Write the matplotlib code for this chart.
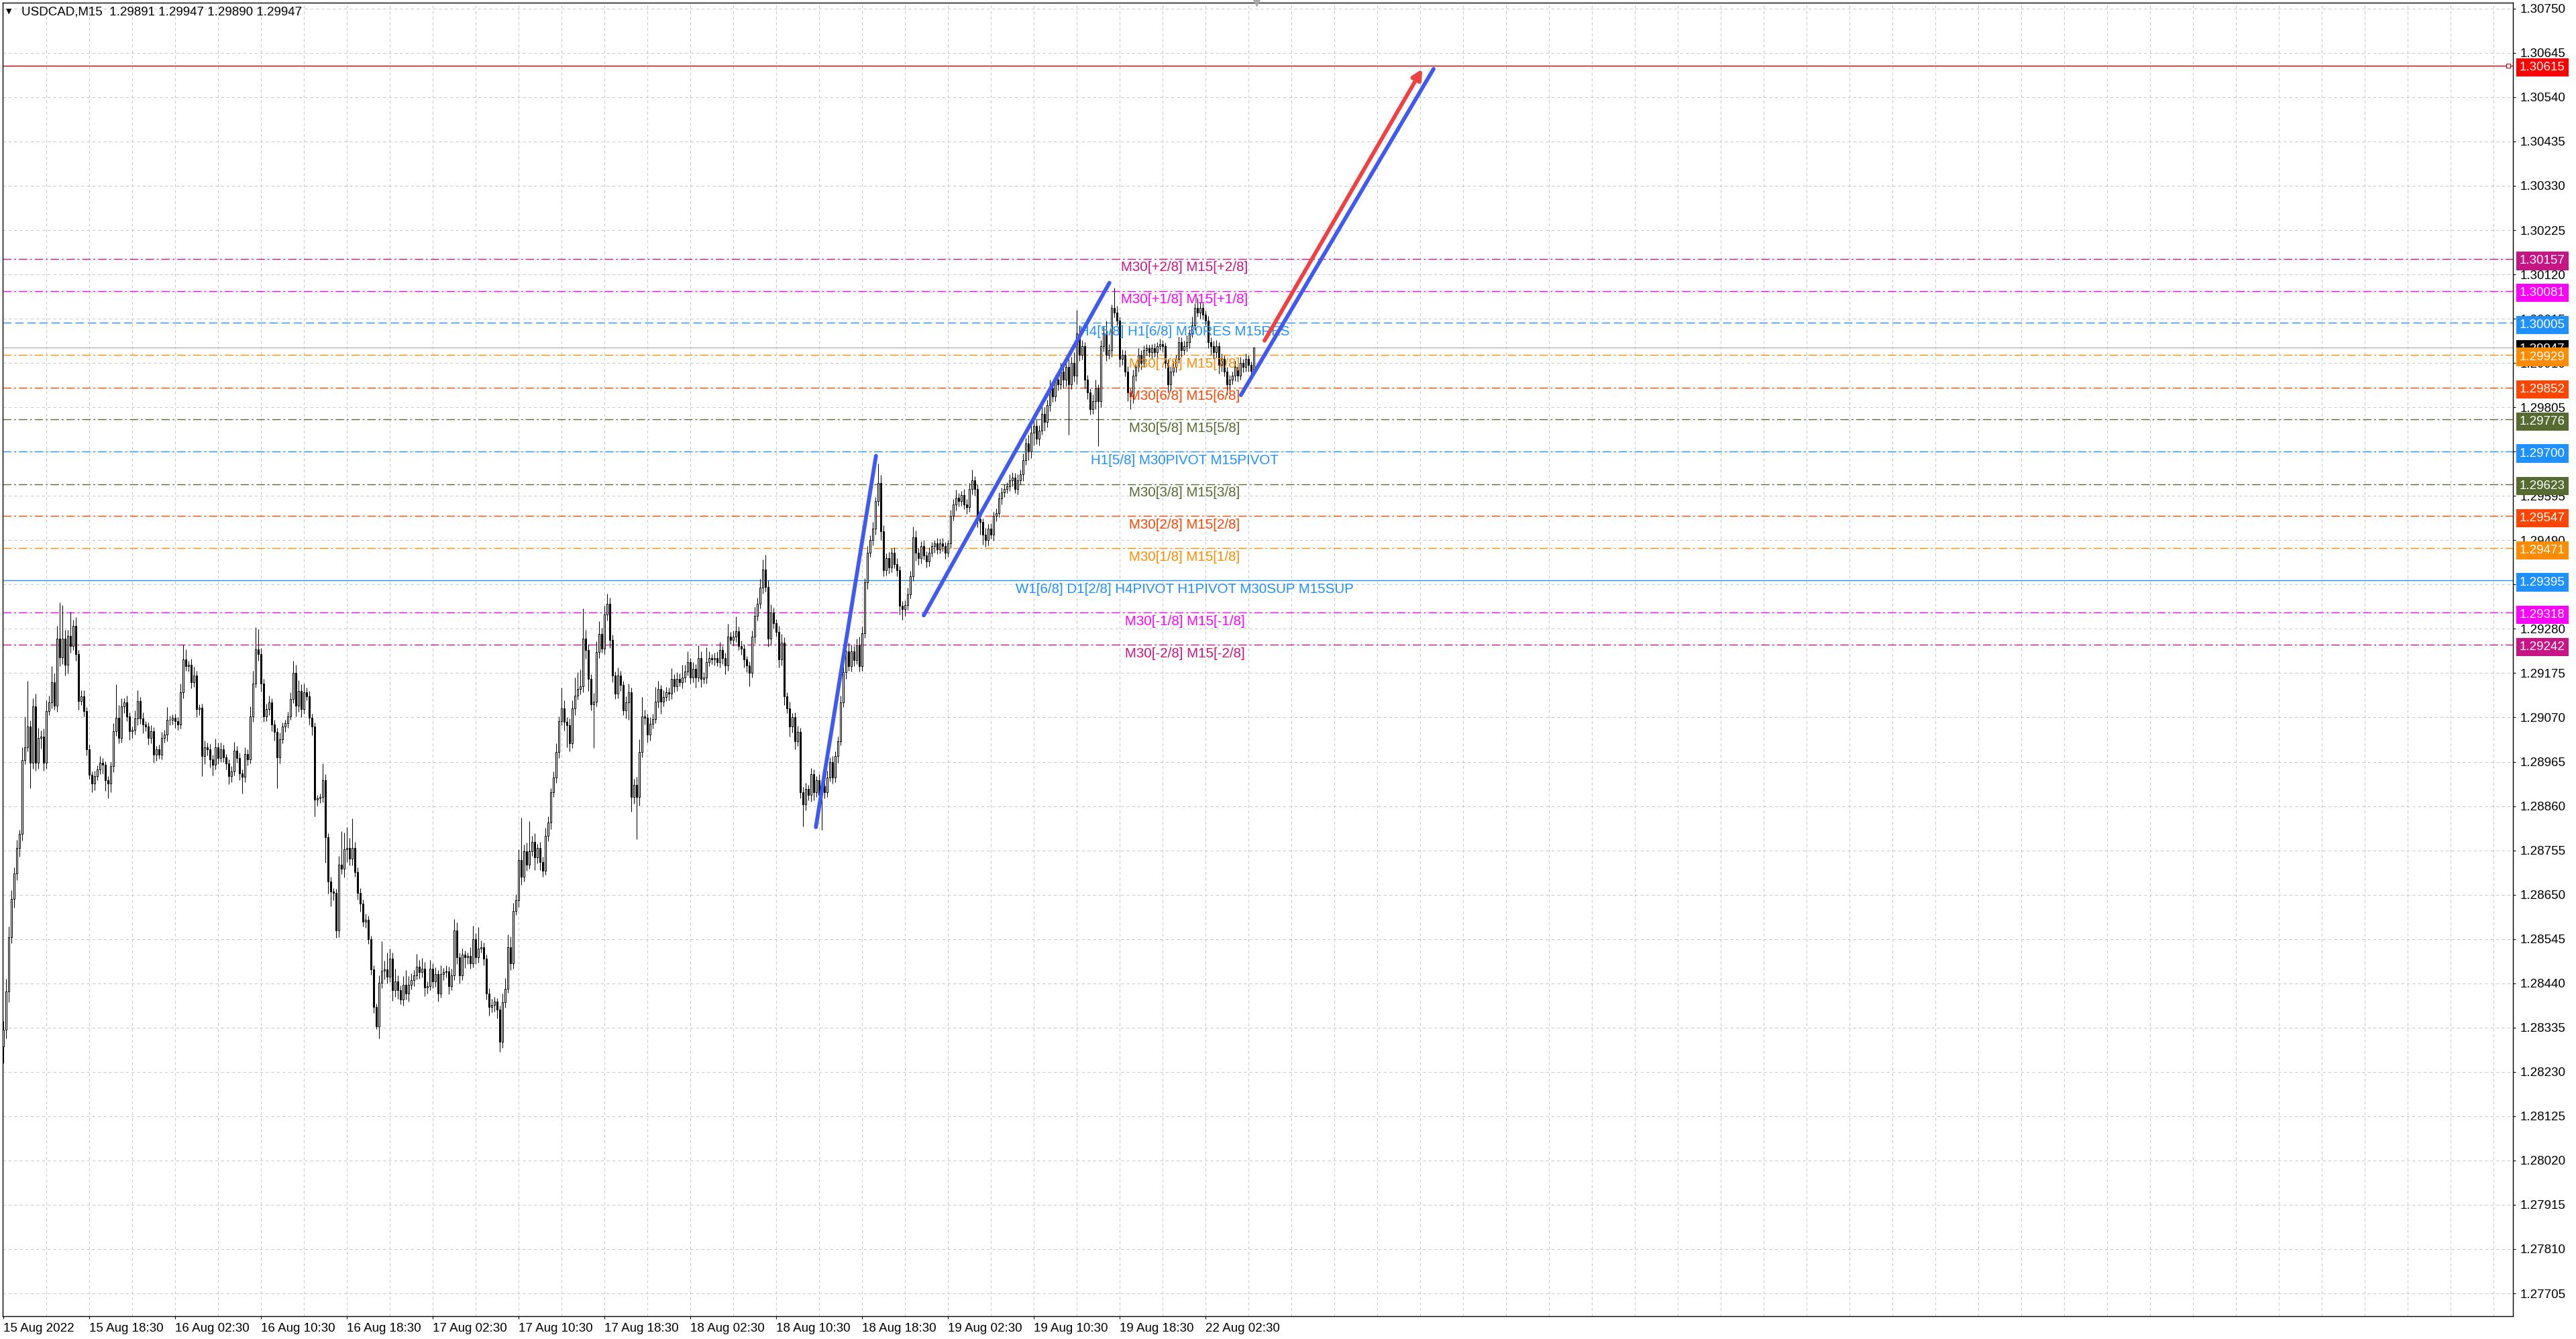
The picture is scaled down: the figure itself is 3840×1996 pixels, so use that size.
import numpy as np
import matplotlib
matplotlib.use("Agg")
import matplotlib.pyplot as plt
import matplotlib.transforms as mtransforms

plt.rcParams['font.family'] = ['Liberation Sans', 'DejaVu Sans']
plt.rcParams['lines.scale_dashes'] = False

# USDCAD M15, prices in points (1e-5) above BASE
BASE = 1.28
first_open = 290
close_pts = [
    330, 420, 550, 640, 700, 760, 794, 969, 1000, 1048,          # 0
    963, 1096, 963, 1021, 1024, 963, 1085, 1106, 1154, 1098,     # 10
    1257, 1212, 1257, 1194, 1263, 1239, 1287, 1220, 1109, 1120,  # 20
    1085, 995, 934, 913, 931, 947, 963, 958, 921, 913,           # 30
    955, 1037, 1069, 1021, 1096, 1106, 1072, 1037, 1040, 1067,   # 40
    1109, 1067, 1053, 1048, 1021, 1037, 982, 995, 982, 1021,     # 50
    1029, 1064, 1064, 1069, 1061, 1053, 1130, 1207, 1191, 1194,  # 60
    1154, 1170, 1090, 1093, 979, 1000, 995, 971, 958, 1000,      # 70
    974, 995, 976, 961, 931, 942, 992, 974, 937, 929,            # 80
    984, 971, 1072, 1151, 1231, 1220, 1151, 1072, 1090, 1106,    # 90
    1053, 1035, 976, 1019, 1048, 1056, 1072, 1114, 1175, 1098,   # 100
    1133, 1090, 1130, 1120, 1069, 1048, 876, 878, 881, 921,      # 110
    786, 682, 657, 654, 565, 721, 711, 757, 760, 735,            # 120
    760, 704, 654, 629, 586, 590, 544, 473, 384, 338,            # 130
    441, 469, 473, 455, 498, 423, 444, 423, 402, 437,            # 140
    416, 437, 448, 459, 480, 466, 475, 430, 434, 475,            # 150
    444, 462, 416, 462, 466, 468, 434, 459, 565, 501,            # 160
    459, 508, 501, 505, 487, 544, 501, 523, 526, 498,            # 170
    416, 384, 388, 397, 377, 302, 395, 427, 526, 487,            # 180
    611, 636, 732, 693, 753, 721, 753, 775, 739, 760,            # 190
    728, 707, 789, 821, 892, 927, 988, 1062, 1091, 1059,         # 200
    1052, 1009, 1091, 1122, 1137, 1144, 1257, 1229, 1162, 1101,  # 210
    1108, 1225, 1268, 1233, 1314, 1339, 1254, 1169, 1126, 1169,  # 220
    1147, 1087, 1105, 1130, 881, 910, 881, 988, 1073, 1069,      # 230
    1030, 1055, 1066, 1108, 1137, 1108, 1119, 1130, 1126, 1162,  # 240
    1144, 1162, 1154, 1165, 1179, 1201, 1165, 1186, 1165, 1211,  # 250
    1162, 1165, 1201, 1211, 1208, 1211, 1201, 1229, 1211, 1193,  # 260
    1261, 1254, 1261, 1275, 1240, 1233, 1208, 1193, 1176, 1261,  # 270
    1311, 1339, 1378, 1420, 1380, 1257, 1318, 1293, 1272, 1208,  # 280
    1248, 1120, 1092, 1049, 1070, 1014, 1035, 893, 864, 900,     # 290
    886, 935, 893, 921, 886, 907, 893, 928, 964, 928,            # 300
    978, 1014, 1106, 1177, 1227, 1191, 1227, 1206, 1241, 1191,   # 310
    1270, 1390, 1461, 1490, 1518, 1582, 1625, 1511, 1419, 1447,  # 320
    1426, 1461, 1433, 1419, 1334, 1326, 1337, 1362, 1405, 1497,  # 330
    1461, 1447, 1476, 1454, 1440, 1461, 1476, 1483, 1469, 1483,  # 340
    1476, 1461, 1483, 1547, 1575, 1590, 1582, 1597, 1575, 1568,  # 350
    1611, 1632, 1611, 1540, 1533, 1504, 1490, 1518, 1504, 1547,  # 360
    1554, 1589, 1604, 1611, 1618, 1632, 1639, 1611, 1632, 1646,  # 370
    1680, 1720, 1700, 1745, 1760, 1730, 1750, 1790, 1770, 1810,  # 380
    1850, 1830, 1870, 1860, 1890, 1870, 1900, 1860, 1910, 1880,  # 390
    1980, 1930, 1950, 1870, 1840, 1800, 1820, 1850, 1820, 1950,  # 400
    1980, 1930, 1940, 2040, 2030, 2010, 1920, 1930, 1890, 1840,  # 410
    1830, 1880, 1900, 1930, 1910, 1940, 1945, 1935, 1945, 1935,  # 420
    1950, 1955, 1950, 1910, 1860, 1890, 1900, 1920, 1960, 1940,  # 430
    1950, 1960, 1980, 2000, 2040, 2030, 2040, 2025, 2010, 1960,  # 440
    1950, 1935, 1950, 1905, 1920, 1890, 1860, 1870, 1880, 1900,  # 450
    1880, 1910, 1900, 1920, 1905, 1891, 1947,                    # 460
]
up_wick = [
    20, 30, 25, 20, 15, 20, 10, 30, 72, 109,
    15, 20, 30, 25, 15, 20, 25, 15, 37, 20,
    30, 85, 80, 20, 15, 58, 15, 20, 10, 15,
    15, 10, 10, 8, 12, 10, 15, 10, 8, 10,
    10, 20, 80, 30, 20, 10, 15, 10, 8, 20,
    25, 10, 15, 8, 10, 15, 10, 8, 10, 15,
    12, 30, 10, 8, 10, 10, 20, 35, 25, 10,
    15, 20, 10, 8, 10, 15, 10, 12, 10, 20,
    10, 15, 10, 8, 10, 12, 20, 10, 12, 10,
    15, 10, 25, 30, 53, 48, 15, 10, 12, 15,
    10, 12, 10, 15, 10, 8, 12, 15, 29, 20,
    25, 15, 20, 10, 12, 10, 10, 8, 8, 40,
    15, 10, 10, 8, 10, 20, 80, 40, 50, 25,
    70, 15, 10, 12, 10, 15, 10, 8, 10, 8,
    18, 71, 20, 39, 25, 15, 30, 15, 12, 20,
    35, 20, 15, 12, 30, 15, 25, 15, 10, 20,
    12, 15, 10, 20, 10, 15, 12, 15, 28, 20,
    12, 15, 10, 8, 20, 32, 15, 50, 15, 10,
    10, 12, 15, 10, 8, 10, 20, 25, 30, 25,
    20, 15, 25, 100, 15, 20, 71, 15, 20, 10,
    15, 12, 20, 15, 10, 15, 20, 10, 50, 20,
    12, 15, 20, 43, 40, 40, 71, 20, 15, 10,
    20, 25, 30, 15, 20, 25, 15, 12, 10, 20,
    12, 10, 15, 20, 10, 15, 20, 30, 46, 15,
    10, 15, 12, 35, 20, 10, 15, 12, 10, 25,
    10, 15, 12, 30, 15, 25, 10, 15, 10, 30,
    15, 12, 35, 15, 10, 12, 15, 20, 10, 12,
    30, 12, 15, 35, 10, 12, 10, 8, 10, 15,
    20, 15, 20, 25, 35, 15, 20, 12, 10, 15,
    20, 12, 10, 15, 10, 12, 15, 10, 12, 15,
    10, 15, 12, 10, 15, 12, 10, 15, 12, 15,
    12, 10, 15, 20, 15, 20, 15, 12, 15, 20,
    15, 10, 15, 12, 15, 10, 46, 20, 15, 12,
    15, 10, 12, 15, 10, 12, 10, 15, 12, 25,
    15, 10, 12, 15, 10, 12, 10, 8, 12, 10,
    12, 10, 8, 15, 12, 20, 12, 10, 15, 12,
    15, 25, 10, 12, 10, 8, 15, 10, 12, 10,
    12, 15, 10, 12, 10, 15, 12, 10, 15, 12,
    15, 12, 20, 25, 30, 15, 12, 20, 15, 12,
    20, 15, 12, 15, 20, 12, 15, 20, 15, 25,
    56, 20, 15, 10, 12, 10, 15, 20, 10, 15,
    16, 30, 15, 9, 49, 15, 10, 12, 10, 12,
    10, 15, 12, 15, 10, 12, 10, 8, 10, 12,
    10, 12, 10, 8, 10, 12, 15, 10, 12, 10,
    12, 15, 10, 20, 12, 25, 15, 12, 10, 12,
    10, 12, 15, 10, 12, 8, 10, 12, 10, 15,
    12, 15, 10, 12, 10, 8, 0,
]
dn_wick = [
    40, 20, 25, 15, 20, 15, 20, 15, 10, 10,
    61, 15, 20, 15, 25, 20, 15, 10, 15, 10,
    15, 20, 15, 25, 20, 15, 10, 15, 20, 10,
    12, 15, 10, 20, 15, 10, 12, 20, 25, 35,
    20, 15, 10, 12, 10, 15, 10, 20, 15, 10,
    15, 12, 20, 10, 15, 12, 20, 15, 10, 12,
    10, 15, 12, 10, 15, 12, 10, 15, 10, 12,
    15, 12, 20, 15, 48, 20, 15, 20, 25, 12,
    15, 10, 12, 15, 20, 15, 10, 12, 15, 40,
    12, 15, 10, 12, 10, 15, 20, 12, 10, 15,
    15, 20, 74, 15, 10, 12, 10, 8, 10, 25,
    15, 20, 12, 10, 15, 20, 40, 15, 10, 12,
    60, 30, 35, 18, 18, 15, 12, 20, 30, 15,
    15, 12, 15, 20, 12, 15, 10, 12, 15, 7,
    28, 12, 20, 15, 12, 25, 15, 20, 12, 15,
    15, 20, 12, 15, 10, 15, 12, 20, 15, 10,
    15, 12, 20, 10, 15, 12, 20, 10, 12, 15,
    20, 12, 25, 15, 12, 10, 15, 12, 10, 15,
    15, 21, 12, 15, 20, 25, 15, 12, 10, 15,
    12, 10, 15, 20, 12, 15, 10, 12, 30, 15,
    20, 15, 10, 12, 15, 10, 12, 15, 10, 20,
    53, 20, 12, 15, 10, 12, 15, 20, 30, 15,
    103, 12, 15, 10, 12, 15, 20, 15, 12, 10,
    15, 12, 20, 40, 35, 15, 100, 20, 12, 15,
    20, 15, 12, 10, 15, 30, 12, 10, 15, 12,
    15, 12, 10, 15, 12, 10, 15, 12, 25, 10,
    20, 12, 15, 10, 12, 15, 10, 12, 15, 20,
    12, 10, 15, 12, 10, 15, 20, 15, 32, 12,
    15, 12, 10, 15, 12, 20, 15, 12, 10, 20,
    15, 20, 12, 25, 15, 20, 12, 15, 53, 15,
    12, 15, 20, 12, 15, 82, 15, 12, 10, 15,
    12, 15, 10, 12, 15, 10, 12, 15, 10, 12,
    10, 12, 15, 10, 12, 15, 10, 20, 15, 12,
    15, 12, 10, 15, 20, 25, 15, 12, 10, 12,
    20, 15, 12, 10, 15, 12, 10, 15, 12, 10,
    12, 15, 10, 12, 10, 15, 12, 10, 12, 15,
    10, 12, 15, 20, 30, 25, 15, 12, 10, 15,
    12, 10, 15, 12, 10, 12, 15, 10, 12, 10,
    15, 12, 20, 15, 30, 12, 15, 10, 20, 12,
    15, 12, 10, 15, 12, 20, 15, 120, 12, 15,
    20, 15, 12, 20, 15, 12, 10, 20, 107, 15,
    12, 15, 10, 15, 12, 10, 20, 15, 12, 20,
    30, 15, 12, 10, 15, 10, 12, 10, 15, 10,
    12, 10, 15, 12, 20, 15, 10, 12, 10, 15,
    10, 12, 15, 10, 12, 10, 15, 12, 10, 15,
    20, 15, 12, 20, 15, 12, 25, 15, 10, 12,
    15, 10, 12, 10, 15, 10, 1,
]

# Murrey-math style levels drawn by the indicator
levels = [1.30157, 1.30081, 1.30005, 1.29929, 1.29852, 1.29776, 1.29700,
          1.29623, 1.29547, 1.29471, 1.29395, 1.29318, 1.29242]
level_labels = ["M30[+2/8] M15[+2/8]", "M30[+1/8] M15[+1/8]",
                "H4[5/8] H1[6/8] M30RES M15RES", "M30[7/8] M15[7/8]",
                "M30[6/8] M15[6/8]", "M30[5/8] M15[5/8]",
                "H1[5/8] M30PIVOT M15PIVOT", "M30[3/8] M15[3/8]",
                "M30[2/8] M15[2/8]", "M30[1/8] M15[1/8]",
                "W1[6/8] D1[2/8] H4PIVOT H1PIVOT M30SUP M15SUP",
                "M30[-1/8] M15[-1/8]", "M30[-2/8] M15[-2/8]"]
level_colors = ["#C71585", "#FF00FF", "#1E90FF", "#FF8C00", "#FF4500", "#556B2F",
                "#1E90FF", "#556B2F", "#FF4500", "#FF8C00", "#1E90FF", "#FF00FF",
                "#C71585"]
DASHDOT = (0, (9, 3, 2, 3))
level_styles = [DASHDOT, DASHDOT, (0, (9, 4)), DASHDOT, DASHDOT, DASHDOT, DASHDOT,
                DASHDOT, DASHDOT, DASHDOT, "-", DASHDOT, DASHDOT]

target_price = 1.30615
bid_price = 1.29947

# hand drawn trend lines (bar index, price)
trend_a = ([302.8, 325.2], [1.28810, 1.29690])
trend_b = ([343.0, 412.2], [1.29312, 1.30100])
trend_c = ([461.2, 533.0], [1.29834, 1.30607])
arrow_red = ([470.0, 528.8], [1.29963, 1.30607])

time_labels = ["15 Aug 2022", "15 Aug 18:30", "16 Aug 02:30", "16 Aug 10:30",
               "16 Aug 18:30", "17 Aug 02:30", "17 Aug 10:30", "17 Aug 18:30",
               "18 Aug 02:30", "18 Aug 10:30", "18 Aug 18:30", "19 Aug 02:30",
               "19 Aug 10:30", "19 Aug 18:30", "22 Aug 02:30"]
BARS_PER_LABEL = 32

W, H = 3840, 1996
L, R, T, B = 4, 3746, 4, 1962

n = min(len(close_pts), len(up_wick), len(dn_wick))
c = BASE + np.array(close_pts[:n]) / 1e5
o = np.r_[BASE + first_open / 1e5, c[:-1]]
hi = np.maximum(o, c) + np.array(up_wick[:n]) / 1e5
lo = np.minimum(o, c) - np.array(dn_wick[:n]) / 1e5
idx = np.arange(n)

fig = plt.figure(figsize=(W / 100, H / 100), dpi=100, facecolor="white")
ax = fig.add_axes([L / W, 1 - B / H, (R - L) / W, (B - T) / H])
xmax = 935.25
ax.set_xlim(-0.25, xmax)
ax.set_ylim(1.27651, 1.30764)

# grid
yticks = [round(1.27705 + 0.00105 * k, 5) for k in range(30)]
ax.hlines(yticks, -0.25, xmax, colors="#c8c8c8", lw=0.75, linestyles=[(0, (3, 3))], zorder=0)
ax.vlines(np.arange(16, 936, 16), 1.27651, 1.30764, colors="#c8c8c8", lw=0.75,
          linestyles=[(0, (3, 3))], zorder=0)

# levels
for p, col, ls in zip(levels, level_colors, level_styles):
    ax.axhline(p, color=col, lw=1.0, ls=ls, zorder=1)
ax.axhline(target_price, color="#C00000", lw=1.0, zorder=1)
ax.plot([933.5], [target_price], marker="s", ms=4, mfc="white", mec="#C00000", mew=0.8,
        zorder=2, clip_on=False)
ax.axhline(bid_price, color="#b4b4b4", lw=1.0, zorder=1)

# candles
ax.vlines(idx, lo, hi, color="black", lw=0.75, zorder=2)
bull = c >= o
body_lo = np.minimum(o, c)
body_h = np.maximum(np.abs(c - o), 0.000012)
ax.bar(idx[bull], body_h[bull], bottom=body_lo[bull], width=0.72, facecolor="white",
       edgecolor="black", lw=0.75, zorder=3)
ax.bar(idx[~bull], body_h[~bull], bottom=body_lo[~bull], width=0.72, facecolor="black",
       edgecolor="black", lw=0.75, zorder=3)

# level labels
for p, lab, col in zip(levels, level_labels, level_colors):
    ax.annotate(lab, (440.25, p), xytext=(0, -2.5), textcoords="offset points",
                ha="center", va="top", color=col, fontsize=14.8, zorder=5)

# trend lines
BLUE = "#3F5AF0"
for xs, ys in (trend_a, trend_b, trend_c):
    ax.plot(xs, ys, color=BLUE, lw=4.2, solid_capstyle="round", zorder=6)
ax.annotate("", xy=(arrow_red[0][1], arrow_red[1][1]),
            xytext=(arrow_red[0][0], arrow_red[1][0]),
            arrowprops=dict(arrowstyle="-|>", color="#F04040", lw=4.2,
                            mutation_scale=22, shrinkA=0, shrinkB=0), zorder=6)

# chart shift marker
ax.plot([467], [1.30764], marker="v", ms=7, color="#a8a8a8", clip_on=False, zorder=7)

# axes look
for s in ax.spines.values():
    s.set_color("black")
    s.set_linewidth(1.0)
ax.yaxis.tick_right()
ax.set_yticks(yticks)
ax.set_yticklabels([f"{t:.5f}" for t in yticks])
ax.tick_params(axis="y", length=3, width=0.8, pad=5, labelsize=13.5, colors="black")
xt = [BARS_PER_LABEL * k for k in range(len(time_labels))]
ax.set_xticks(xt)
ax.set_xticklabels(time_labels)
ax.tick_params(axis="x", length=3, width=0.8, pad=4, labelsize=13.5)
for lab in ax.get_xticklabels():
    lab.set_horizontalalignment("left")

# price tags on the right scale
trans = mtransforms.blended_transform_factory(ax.transAxes, ax.transData)
trans = mtransforms.offset_copy(trans, fig=fig, x=10, y=-3, units="dots")
tags = [(bid_price, "black")] + list(zip(levels, level_colors)) + [(target_price, "#FF0000")]
order = [0, 1, 2, 3, 4, 5, 6, 7, 8, 9, 10, 11, 12, 13, 14]
for z, (p, col) in enumerate(tags):
    ax.text(0.0 + 1.0, p, f"{p:.5f}", transform=trans, color="white", fontsize=13.5,
            ha="left", va="center", clip_on=False, zorder=10 + z,
            bbox=dict(boxstyle="square,pad=0.28", fc=col, ec="none"))

# title
fig.text(13 / W, 1 - 17 / H, "\u25BC", fontsize=8, ha="center", va="center",
         family=["DejaVu Sans"])
fig.text(32 / W, 1 - 18 / H, "USDCAD,M15  1.29891 1.29947 1.29890 1.29947",
         fontsize=13.5, ha="left", va="center")

fig.savefig("out.png", dpi=100, facecolor="white")
